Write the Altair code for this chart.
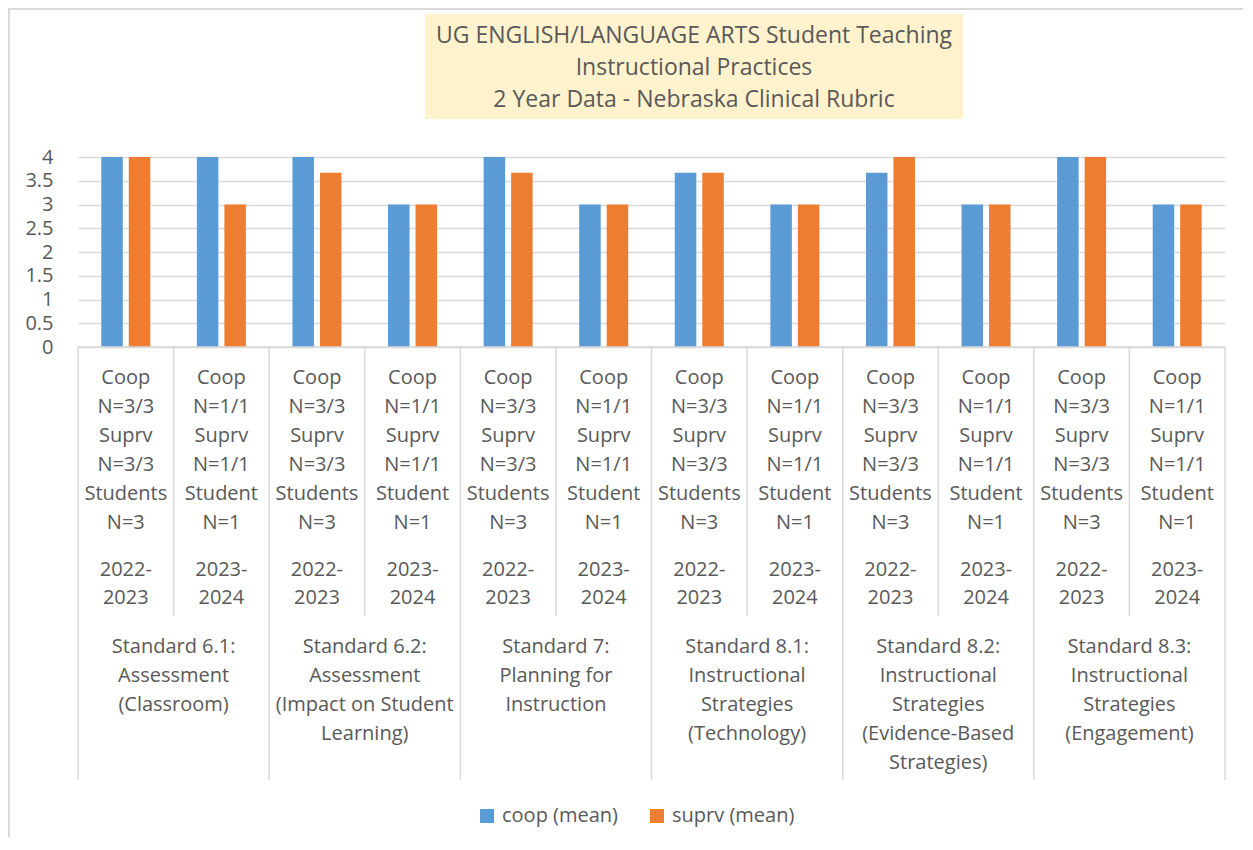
import altair as alt
import pandas as pd

# ---------------- data ----------------
standard_ids = ["6.1", "6.2", "7", "8.1", "8.2", "8.3"]
standard_labels = [
    "Standard 6.1:\nAssessment\n(Classroom)",
    "Standard 6.2:\nAssessment\n(Impact on Student\nLearning)",
    "Standard 7:\nPlanning for\nInstruction",
    "Standard 8.1:\nInstructional\nStrategies\n(Technology)",
    "Standard 8.2:\nInstructional\nStrategies\n(Evidence-Based\nStrategies)",
    "Standard 8.3:\nInstructional\nStrategies\n(Engagement)",
]
years = ["2022-2023", "2023-2024"]
year_labels = ["2022-\n2023", "2023-\n2024"]
count_labels = [
    "Coop\nN=3/3\nSuprv\nN=3/3\nStudents\nN=3",
    "Coop\nN=1/1\nSuprv\nN=1/1\nStudent\nN=1",
]
coop_mean = [4, 4, 4, 3, 4, 3, 3.67, 3, 3.67, 3, 4, 3]
suprv_mean = [4, 3, 3.67, 3, 3.67, 3, 3.67, 3, 4, 3, 4, 3]
series_names = ["coop (mean)", "suprv (mean)"]
series_colors = ["#5B9BD5", "#ED7D31"]
title_lines = [
    "UG ENGLISH/LANGUAGE ARTS Student Teaching",
    "Instructional Practices",
    "2 Year Data - Nebraska Clinical Rubric",
]
y_ticks = [0, 0.5, 1, 1.5, 2, 2.5, 3, 3.5, 4]

# ---------------- tables ----------------
cats = [f"{s} | {y}" for s in standard_ids for y in years]

bar_rows = []
for i, c in enumerate(cats):
    bar_rows.append({"cat": c, "series": series_names[0], "value": coop_mean[i]})
    bar_rows.append({"cat": c, "series": series_names[1], "value": suprv_mean[i]})
bars_df = pd.DataFrame(bar_rows)

lab_rows = []
for si, s in enumerate(standard_ids):
    for yi, y in enumerate(years):
        lab_rows.append({"cat": f"{s} | {y}", "count": count_labels[yi],
                         "year": year_labels[yi], "yi": yi})
lab_df = pd.DataFrame(lab_rows)

std_df = pd.DataFrame({"cat": [f"{s} | {years[0]}" for s in standard_ids],
                       "label": standard_labels})
minor_df = pd.DataFrame({"cat": [f"{s} | {years[1]}" for s in standard_ids]})
major_df = pd.DataFrame({"cat": [f"{s} | {years[0]}" for s in standard_ids]})
end_df = pd.DataFrame({"cat": [cats[-1]]})
one_df = pd.DataFrame({"k": [0]})
title_df = pd.DataFrame({"t": ["\n".join(title_lines)]})

FONT = "Open Sans"
TXT = "#595959"
GRID = "#D9D9D9"
W, H = 1147, 190


def xenc(bp=None):
    kw = dict(scale=alt.Scale(domain=cats, paddingInner=0, paddingOuter=0), axis=None)
    if bp is not None:
        kw["bandPosition"] = bp
    return alt.X("cat:N", **kw)


border_left = alt.Chart(one_df).mark_rule(color=GRID, strokeWidth=2).encode(
    x=alt.value(-69), y=alt.value(-148), y2=alt.value(720))
border_top = alt.Chart(one_df).mark_rule(color=GRID, strokeWidth=2).encode(
    x=alt.value(-70), x2=alt.value(1200), y=alt.value(-148))

title_box = alt.Chart(one_df).mark_rect(fill="#FFF2CC").encode(
    x=alt.value(347), x2=alt.value(885), y=alt.value(-143), y2=alt.value(-38))

title_txt = alt.Chart(title_df).mark_text(
    font=FONT, fontSize=23, color=TXT, lineBreak="\n", lineHeight=32,
    baseline="top", align="center").encode(
    x=alt.value(616), y=alt.value(-132), text="t:N")

bars = alt.Chart(bars_df).mark_bar().encode(
    x=xenc(),
    xOffset=alt.XOffset("series:N", sort=series_names,
                        scale=alt.Scale(domain=series_names, paddingInner=0.218, paddingOuter=0.847)),
    y=alt.Y("value:Q", scale=alt.Scale(domain=[0, 4], nice=False),
            axis=alt.Axis(values=y_ticks, format="~g", title=None, labelFont=FONT,
                          labelFontSize=20, labelColor=TXT, grid=True, gridColor=GRID,
                          gridWidth=1.5, domain=False, ticks=False, tickSize=0,
                          labelPadding=25)),
    color=alt.Color("series:N",
                    scale=alt.Scale(domain=series_names, range=series_colors),
                    legend=alt.Legend(title=None, orient="none", legendX=399, legendY=649,
                                      direction="horizontal", symbolType="square",
                                      symbolSize=196, symbolStrokeWidth=0,
                                      labelFont=FONT, labelFontSize=20, labelColor=TXT,
                                      labelOffset=5, columnPadding=29, padding=0)),
)

minor_rules = alt.Chart(minor_df).mark_rule(color=GRID, strokeWidth=1.5).encode(
    x=xenc(0), y=alt.value(H), y2=alt.value(459))
major_rules = alt.Chart(major_df).mark_rule(color=GRID, strokeWidth=1.5).encode(
    x=xenc(0), y=alt.value(H), y2=alt.value(623))
end_rule = alt.Chart(end_df).mark_rule(color=GRID, strokeWidth=1.5).encode(
    x=xenc(1), y=alt.value(H), y2=alt.value(623))
base_line = alt.Chart(one_df).mark_rule(color=GRID, strokeWidth=1.5).encode(
    x=alt.value(0), x2=alt.value(W), y=alt.value(H))

count_txt = alt.Chart(lab_df).mark_text(
    font=FONT, fontSize=20, color=TXT, lineBreak="\n", lineHeight=29,
    baseline="top", align="center").encode(
    x=xenc(0.5), y=alt.value(211), text="count:N")

year_txt = alt.Chart(lab_df).mark_text(
    font=FONT, fontSize=20, color=TXT, lineBreak="\n", lineHeight=28,
    baseline="top", align="center").encode(
    x=xenc(0.5), y=alt.value(403), text="year:N")

std_txt = alt.Chart(std_df).mark_text(
    font=FONT, fontSize=20, color=TXT, lineBreak="\n", lineHeight=29,
    baseline="top", align="center").encode(
    x=xenc(1), y=alt.value(480), text="label:N")

chart = alt.layer(
    border_left, border_top, title_box, title_txt, bars, base_line, minor_rules,
    major_rules, end_rule, count_txt, year_txt, std_txt,
).properties(
    width=W, height=H,
    autosize=alt.AutoSizeParams(type="none"),
    padding={"left": 70, "top": 149, "right": 18, "bottom": 490},
    background="white",
).configure_view(stroke=None)

chart.save("out.html", embed_options={"renderer": "svg", "actions": False})
